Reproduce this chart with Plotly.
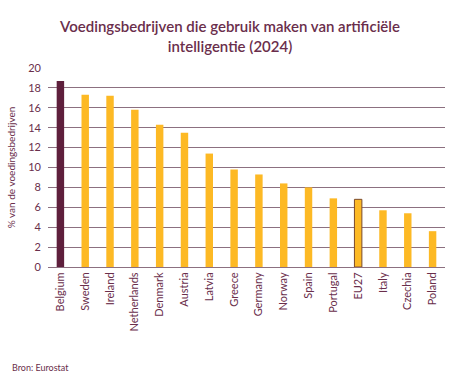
import plotly.graph_objects as go

countries = ["Belgium", "Sweden", "Ireland", "Netherlands", "Denmark", "Austria", "Latvia",
             "Greece", "Germany", "Norway", "Spain", "Portugal", "EU27", "Italy", "Czechia", "Poland"]
values = [18.7, 17.3, 17.2, 15.8, 14.3, 13.5, 11.4, 9.8, 9.3, 8.4, 8.0, 6.9, 6.8, 5.7, 5.4, 3.6]

gold = "#FDB924"
maroon = "#5E1F3C"
text_col = "#6A2E4B"

colors = [maroon if c == "Belgium" else gold for c in countries]
line_colors = ["#7A4A2A" if c == "EU27" else "rgba(0,0,0,0)" for c in countries]
line_widths = [1 if c == "EU27" else 0 for c in countries]

fig = go.Figure(go.Bar(
    x=countries, y=values,
    marker=dict(color=colors, line=dict(color=line_colors, width=line_widths)),
    width=0.3,
))

fig.update_layout(
    width=460, height=377,
    margin=dict(l=48, r=15, t=68, b=110),
    paper_bgcolor="white", plot_bgcolor="white",
    font=dict(family="Lato", color=text_col, size=11),
    title=dict(text="Voedingsbedrijven die gebruik maken van artificiële<br>intelligentie (2024)",
               x=0.5, xanchor="center", xref="container", yref="container",
               y=1 - 32 / 377, yanchor="top",
               font=dict(size=15, color=text_col, family="Lato", weight=600)),
    showlegend=False,
    annotations=[dict(text="Bron: Eurostat", x=-38 / 397, xref="paper", xanchor="left",
                      y=-(367 - 267) / 199, yref="paper", yanchor="middle",
                      showarrow=False, font=dict(size=9, color=text_col))],
)

fig.update_xaxes(tickangle=-90, showgrid=False, showline=True, linecolor="#8C7080",
                 linewidth=1, ticks="", tickfont=dict(size=11, color=text_col))
fig.update_yaxes(range=[0, 20], dtick=2, showgrid=True, gridcolor="#8C7080", gridwidth=1,
                 zeroline=False, ticks="", ticklabelstandoff=6,
                 tickfont=dict(size=11, color=text_col),
                 title=dict(text="% van de voedingsbedrijven", font=dict(size=10, color=text_col),
                            standoff=10))

fig.write_html("out.html", config={"displayModeBar": False},
               post_script="document.body.style.margin='0';")
